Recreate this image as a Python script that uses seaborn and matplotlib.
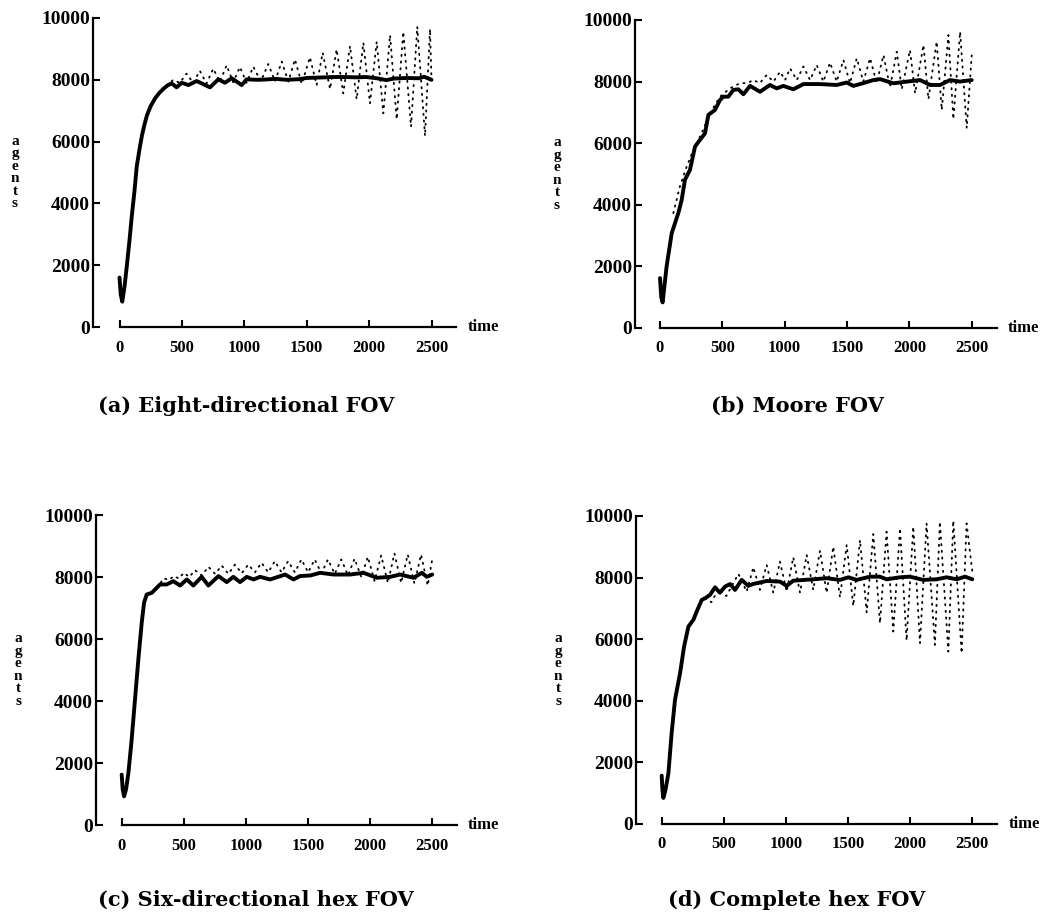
import numpy as np
import pandas as pd
import matplotlib
matplotlib.use("Agg")
import matplotlib.pyplot as plt
import seaborn as sns

# ---------------- data ----------------
# (a) Eight-directional FOV
a_solid_t = [0, 10, 22, 40, 58, 80, 98, 120, 138, 160, 180, 200, 220, 250, 285, 320, 355, 385, 418, 458, 498, 552, 618, 658, 725, 792, 845, 899, 979, 1019, 1100, 1172, 1250, 1340, 1440, 1500, 1574, 1650, 1708, 1800, 1900, 1977, 2060, 2138, 2200, 2300, 2400, 2440, 2500]
a_solid_v = [1600, 1050, 820, 1300, 1950, 2800, 3570, 4400, 5190, 5750, 6200, 6550, 6850, 7150, 7400, 7580, 7720, 7820, 7885, 7755, 7905, 7830, 7960, 7885, 7755, 8015, 7905, 8050, 7830, 8015, 8000, 8010, 8030, 8000, 8020, 8060, 8070, 8080, 8090, 8090, 8080, 8090, 8050, 7990, 8040, 8060, 8050, 8100, 8000]
a_dot_t = [380, 430, 483, 537, 590, 644, 697, 751, 804, 858, 911, 965, 1018, 1072, 1132, 1192, 1246, 1300, 1353, 1406, 1460, 1526, 1580, 1628, 1687, 1740, 1793, 1847, 1900, 1954, 2007, 2061, 2114, 2168, 2221, 2274, 2336, 2386, 2448, 2488, 2500]
a_dot_v = [7800, 8000, 7900, 8200, 7900, 8290, 7880, 8360, 7930, 8470, 7920, 8415, 7900, 8425, 7950, 8510, 7950, 8590, 7940, 8660, 7865, 8730, 7830, 8880, 7700, 8985, 7560, 9095, 7370, 9200, 7240, 9235, 6915, 9450, 6720, 9555, 6480, 9720, 6180, 9645, 8000]

# (b) Moore FOV
b_solid_t = [0, 10, 21, 53, 94, 120, 147, 174, 200, 240, 281, 321, 361, 388, 441, 481, 508, 548, 588, 628, 669, 722, 802, 882, 936, 989, 1070, 1150, 1284, 1417, 1497, 1551, 1630, 1711, 1765, 1872, 1980, 2086, 2166, 2246, 2326, 2407, 2500]
b_solid_v = [1620, 1000, 830, 2000, 3080, 3400, 3730, 4160, 4810, 5130, 5890, 6110, 6320, 6920, 7080, 7400, 7510, 7510, 7730, 7750, 7590, 7860, 7670, 7890, 7780, 7860, 7750, 7920, 7920, 7890, 7970, 7860, 7950, 8050, 8080, 7945, 8000, 8050, 7890, 7890, 8050, 8000, 8050]
b_dot_t = [107, 160, 214, 267, 334, 401, 481, 561, 642, 700, 749, 800, 856, 910, 963, 1003, 1043, 1097, 1150, 1204, 1257, 1310, 1364, 1417, 1471, 1524, 1578, 1631, 1685, 1738, 1792, 1845, 1899, 1939, 2005, 2046, 2113, 2153, 2219, 2260, 2313, 2353, 2407, 2460, 2500]
b_dot_v = [3730, 4600, 5240, 5780, 6320, 6970, 7510, 7780, 7950, 7950, 8050, 7950, 8215, 8000, 8320, 8050, 8430, 8050, 8490, 8050, 8540, 8000, 8615, 8000, 8700, 7950, 8755, 8000, 8760, 7950, 8860, 7815, 8970, 7750, 9025, 7620, 9190, 7430, 9300, 7080, 9510, 6780, 9620, 6490, 8850]

# (c) Six-directional hex FOV
c_solid_t = [0, 8, 19, 35, 54, 80, 107, 134, 161, 180, 201, 242, 282, 309, 362, 416, 470, 524, 577, 644, 698, 779, 846, 899, 953, 1007, 1061, 1114, 1195, 1316, 1383, 1436, 1520, 1598, 1705, 1839, 1947, 2054, 2161, 2242, 2349, 2417, 2457, 2500]
c_solid_v = [1625, 1150, 925, 1150, 1680, 2750, 4045, 5340, 6520, 7170, 7435, 7490, 7650, 7760, 7760, 7865, 7725, 7920, 7725, 8005, 7725, 8030, 7835, 8005, 7835, 8005, 7920, 8005, 7920, 8080, 7920, 8030, 8050, 8135, 8080, 8080, 8135, 7975, 8005, 8080, 7975, 8135, 8005, 8080]
c_dot_t = [282, 340, 380, 420, 460, 500, 545, 590, 645, 698, 752, 805, 859, 912, 966, 1019, 1073, 1126, 1180, 1233, 1287, 1340, 1394, 1447, 1501, 1554, 1608, 1661, 1715, 1768, 1822, 1875, 1929, 1982, 2036, 2089, 2143, 2196, 2250, 2303, 2357, 2410, 2464, 2500]
c_dot_v = [7650, 7960, 7900, 8030, 7950, 8135, 8000, 8220, 8050, 8330, 8100, 8370, 8100, 8400, 8120, 8400, 8150, 8460, 8150, 8510, 8150, 8510, 8150, 8565, 8150, 8565, 8120, 8565, 8100, 8565, 8050, 8590, 8000, 8650, 7865, 8695, 7810, 8760, 7810, 8725, 7790, 8725, 7725, 8565]

# (d) Complete hex FOV
d_solid_t = [0, 6, 13, 30, 54, 80, 107, 148, 180, 215, 255, 282, 322, 349, 389, 429, 469, 510, 550, 590, 644, 697, 738, 845, 952, 1006, 1059, 1220, 1328, 1435, 1502, 1569, 1676, 1757, 1810, 1918, 1998, 2105, 2213, 2293, 2374, 2441, 2500]
d_solid_v = [1570, 1100, 845, 1100, 1650, 2950, 4030, 4900, 5760, 6410, 6630, 6900, 7275, 7330, 7440, 7685, 7510, 7710, 7790, 7600, 7925, 7730, 7795, 7890, 7870, 7730, 7900, 7945, 7980, 7925, 8010, 7925, 8030, 8030, 7945, 8010, 8030, 7925, 7945, 8010, 7945, 8030, 7945]
d_dot_t = [349, 400, 460, 520, 617, 684, 738, 790, 845, 898, 952, 1006, 1059, 1113, 1167, 1220, 1274, 1328, 1381, 1435, 1489, 1542, 1596, 1650, 1703, 1757, 1810, 1864, 1918, 1971, 2025, 2079, 2132, 2199, 2239, 2307, 2347, 2414, 2454, 2500]
d_dot_v = [7330, 7200, 7650, 7400, 8120, 7545, 8335, 7600, 8410, 7510, 8520, 7545, 8660, 7510, 8735, 7600, 8875, 7500, 9005, 7360, 9060, 7080, 9220, 6865, 9415, 6520, 9490, 6250, 9600, 5955, 9655, 5870, 9760, 5815, 9815, 5600, 9850, 5545, 9760, 8200]

captions = ["(a) Eight-directional FOV", "(b) Moore FOV",
            "(c) Six-directional hex FOV", "(d) Complete hex FOV"]
y_ticks = [0, 2000, 4000, 6000, 8000, 10000]
x_ticks = [0, 500, 1000, 1500, 2000, 2500]
x_label = "time"
y_label = "agents"

# ---------------- figure ----------------
sns.set_theme(style="ticks")
plt.rcParams["font.family"] = ["Liberation Serif", "DejaVu Serif"]
plt.rcParams["text.color"] = "black"
plt.rcParams["axes.labelcolor"] = "black"
plt.rcParams["xtick.color"] = "black"
plt.rcParams["ytick.color"] = "black"

W, H = 1043, 916
fig = plt.figure(figsize=(W / 100, H / 100), dpi=100)

# panel geometry in pixels: (left spine px, x=0 px, px per unit, top px, bottom px)
geo = [
    (93, 119.5, 312 / 2500, 18, 327),
    (635, 660.0, 311.7 / 2500, 20, 328),
    (96, 121.7, 310.5 / 2500, 515, 825),
    (636, 661.7, 310.6 / 2500, 516, 824),
]
cap_pos = [(246, 406), (797, 406), (256, 900), (797, 900)]
XMAX = 2700

panels = [
    (a_solid_t, a_solid_v, a_dot_t, a_dot_v),
    (b_solid_t, b_solid_v, b_dot_t, b_dot_v),
    (c_solid_t, c_solid_v, c_dot_t, c_dot_v),
    (d_solid_t, d_solid_v, d_dot_t, d_dot_v),
]

for i, (st, sv, dt, dv) in enumerate(panels):
    L, x0, sc, top, bot = geo[i]
    xmin = (L - x0) / sc
    R = x0 + XMAX * sc
    ax = fig.add_axes([L / W, 1 - bot / H, (R - L) / W, (bot - top) / H])
    ax.set_facecolor("white")

    sdf = pd.DataFrame({"time": st, "agents": sv})
    ddf = pd.DataFrame({"time": dt, "agents": dv})
    sns.lineplot(data=ddf, x="time", y="agents", ax=ax, color="black",
                 linewidth=1.3, linestyle=(0, (0.7, 3.0)),
                 dash_capstyle="round", clip_on=False)
    sns.lineplot(data=sdf, x="time", y="agents", ax=ax, color="black",
                 linewidth=2.8, clip_on=False, solid_joinstyle="round")

    ax.set_xlim(xmin, XMAX)
    ax.set_ylim(0, 10000)
    ax.set_xlabel("")
    ax.set_ylabel("")
    for s in ["top", "right"]:
        ax.spines[s].set_visible(False)
    ax.spines["left"].set_bounds(0, 10000)
    ax.spines["bottom"].set_bounds(0, XMAX)
    for s in ["left", "bottom"]:
        ax.spines[s].set_linewidth(1.6)
        ax.spines[s].set_color("black")

    ax.set_yticks(y_ticks)
    ax.set_yticklabels([str(v) for v in y_ticks])
    ax.set_xticks(x_ticks)
    ax.set_xticklabels([str(v) for v in x_ticks])
    ax.tick_params(axis="y", direction="in", length=5, width=1.5, pad=2,
                   labelsize=14, colors="black")
    ax.tick_params(axis="x", direction="in", length=5, width=1.5, pad=9,
                   labelsize=12, colors="black")
    for lab in ax.get_xticklabels() + ax.get_yticklabels():
        lab.set_fontweight("bold")

    ax.text(XMAX + 90, 0, x_label, ha="left", va="center", fontsize=12,
            fontweight="bold", clip_on=False)
    ax.text(-78 / (R - L), 0.5, "\n".join(y_label),
            transform=ax.transAxes, ha="center", va="center", fontsize=11,
            fontweight="bold", linespacing=0.95)

    cx, cy = cap_pos[i]
    fig.text(cx / W, 1 - cy / H, captions[i], ha="center", va="center",
             fontsize=15, fontweight="bold", family=["DejaVu Serif"],
             color="black")

fig.savefig("out.png", dpi=100, facecolor="white")
